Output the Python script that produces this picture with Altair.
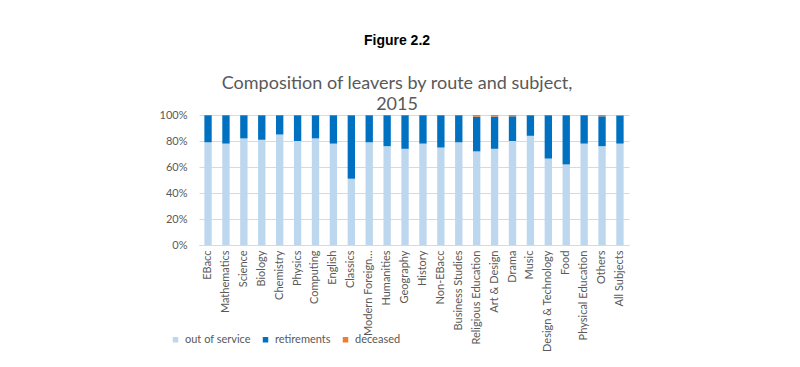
import altair as alt
import pandas as pd

subjects = ["EBacc", "Mathematics", "Science", "Biology", "Chemistry", "Physics",
            "Computing", "English", "Classics", "Modern Foreign…", "Humanities",
            "Geography", "History", "Non-EBacc", "Business Studies",
            "Religious Education", "Art & Design", "Drama", "Music",
            "Design & Technology", "Food", "Physical Education", "Others",
            "All Subjects"]
out_of_service = [79, 78, 82, 81, 85, 80, 82, 78, 51, 79, 76, 74, 78, 75, 79,
                  72, 74, 80, 84, 66.5, 62, 78, 76, 78]
retirements = [20.8, 21.8, 17.8, 18.8, 14.8, 19.8, 17.8, 21.8, 48.8, 20.8, 23.8,
               25.8, 21.8, 24.8, 20.8, 26.7, 24.8, 19.0, 15.8, 33.3, 37.8, 21.8,
               23.0, 21.5]
deceased = [0.2, 0.2, 0.2, 0.2, 0.2, 0.2, 0.2, 0.2, 0.2, 0.2, 0.2, 0.2, 0.2, 0.2,
            0.2, 1.3, 1.2, 1.0, 0.2, 0.2, 0.2, 0.2, 1.0, 0.5]
series = ["out of service", "retirements", "deceased"]
colors = ["#BDD7EE", "#0070C0", "#ED7D31"]

rows = []
for i, s in enumerate(subjects):
    for k, (name, vals) in enumerate(zip(series, [out_of_service, retirements, deceased])):
        rows.append({"subject": s, "route": name, "value": vals[i] / 100.0, "order": k})
df = pd.DataFrame(rows)

FONT = "Lato"
GREY = "#595959"

chart = alt.Chart(df).mark_bar().encode(
    x=alt.X("subject:N", sort=subjects, title=None,
            scale=alt.Scale(paddingInner=0.59, paddingOuter=0.3),
            axis=alt.Axis(labelAngle=270, labelAlign="right", labelBaseline="middle",
                          labelFontSize=11, labelFont=FONT, labelColor=GREY,
                          labelPadding=5, ticks=False, domainColor="#d9d9d9",
                          labelLimit=200)),
    y=alt.Y("value:Q", stack="zero", title=None,
            scale=alt.Scale(domain=[0, 1], nice=False),
            axis=alt.Axis(format="%", values=[0, 0.2, 0.4, 0.6, 0.8, 1.0],
                          labelFontSize=11, labelFont=FONT, labelColor=GREY,
                          ticks=False, domain=False, gridColor="#d9d9d9",
                          labelPadding=12)),
    color=alt.Color("route:N", sort=series,
                    scale=alt.Scale(domain=series, range=colors),
                    legend=alt.Legend(title=None, orient="none", direction="horizontal",
                                      legendX=-29, legendY=219, symbolType="square",
                                      symbolSize=30, labelFontSize=11, labelFont=FONT,
                                      labelColor=GREY, labelOffset=4, columnPadding=9,
                                      symbolStrokeWidth=0)),
    order=alt.Order("order:Q"),
).properties(
    width=430, height=130,
    padding={"left": 191, "top": 107, "right": 163, "bottom": 120},
    autosize=alt.AutoSizeParams(type="none"),
    title=alt.TitleParams(
        text="Figure 2.2", font="Liberation Sans", fontSize=14, fontWeight="bold",
        color="#000000", anchor="middle", dx=-17, offset=-5,
        subtitle=["Composition of leavers by route and subject,", "2015"],
        subtitleFont=FONT, subtitleFontSize=18, subtitleColor=GREY,
        subtitlePadding=27, subtitleLineHeight=21),
).configure_view(stroke=None)

chart.save("out.html", embed_options={"renderer": "svg", "actions": False})
